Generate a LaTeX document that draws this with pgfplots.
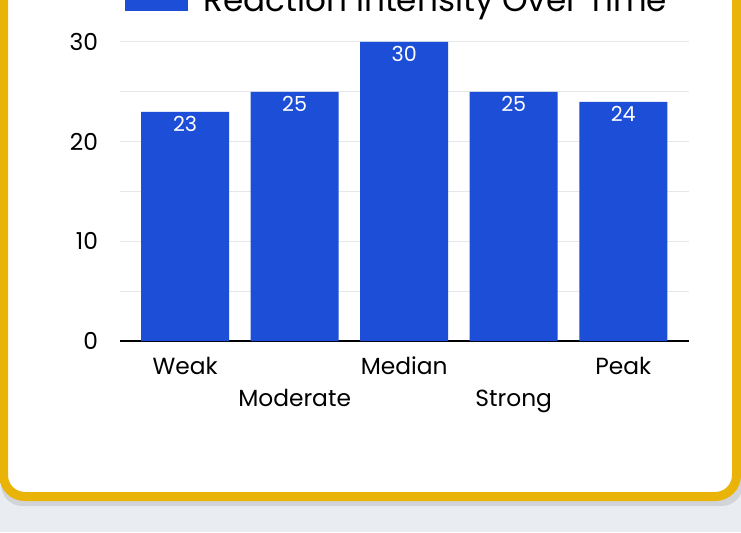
\documentclass[border=0pt]{standalone}
\usepackage{fontspec}
\setmainfont{Poppins}
\usepackage{pgfplots}
\pgfplotsset{compat=1.18}
\definecolor{barblue}{HTML}{1D4ED8}
\definecolor{cardyellow}{HTML}{EAB308}
\definecolor{pagebg}{HTML}{E9EDF1}
\definecolor{gridgray}{HTML}{E5E7EB}
\begin{document}
\begin{tikzpicture}[x=0.75pt,y=0.75pt]
\useasboundingbox (0,0) rectangle (741,532);
\clip (0,0) rectangle (741,532);
\fill[pagebg] (0,0) rectangle (741,532);
% card with shadow
\fill[black, opacity=0.10, rounded corners=16] (1,26) rectangle (743,600);
\filldraw[fill=white, draw=cardyellow, line width=6.75pt, rounded corners=16]
  (3.5,35.5) rectangle (736.5,600);
\begin{axis}[
  at={(90pt,143.25pt)}, anchor=south west,
  scale only axis, width=426.75pt, height=224.25pt,
  xmin=-0.594, xmax=4.6, ymin=0, ymax=30,
  ybar, bar width=66pt,
  axis x line*=bottom, axis y line*=left,
  x axis line style={black, line width=1.1pt},
  y axis line style={draw=none},
  major tick length=0pt, minor tick length=0pt,
  xtick={0,1,2,3,4},
  xticklabels={Weak,{\phantom{Weak}\\Moderate},Median,{\phantom{Weak}\\Strong},Peak},
  xticklabel style={align=center, font=\fontsize{17.5}{24}\selectfont, yshift=-8.5pt},
  ytick={0,10,20,30}, minor ytick={5,15,25},
  yticklabel style={font=\fontsize{17.5}{20}\selectfont, xshift=-13pt},
  ymajorgrids, yminorgrids,
  major grid style={gridgray, line width=0.75pt},
  minor grid style={gridgray, line width=0.75pt},
  /pgf/number format/assume math mode=true,
  nodes near coords,
  nodes near coords style={white, anchor=north, font=\fontsize{15.5}{18}\selectfont},
  legend style={at={(0.0088,1.102)}, anchor=south west, draw=none, fill=none,
    inner sep=0pt, outer sep=0pt, font=\fontsize{24.5}{28}\selectfont,
    nodes={inner sep=0pt, text depth=0pt},
    /tikz/every odd column/.style={column sep=0pt}},
  legend image code/.code={},
]
\addplot[fill=barblue, draw=none] coordinates {(0,23) (1,25) (2,30) (3,25) (4,24)};
\addlegendentry{\textcolor{barblue}{\rule[0.5pt]{47pt}{19.5pt}}\hspace{12pt}Reaction Intensity Over Time}
\end{axis}
\end{tikzpicture}
\end{document}
